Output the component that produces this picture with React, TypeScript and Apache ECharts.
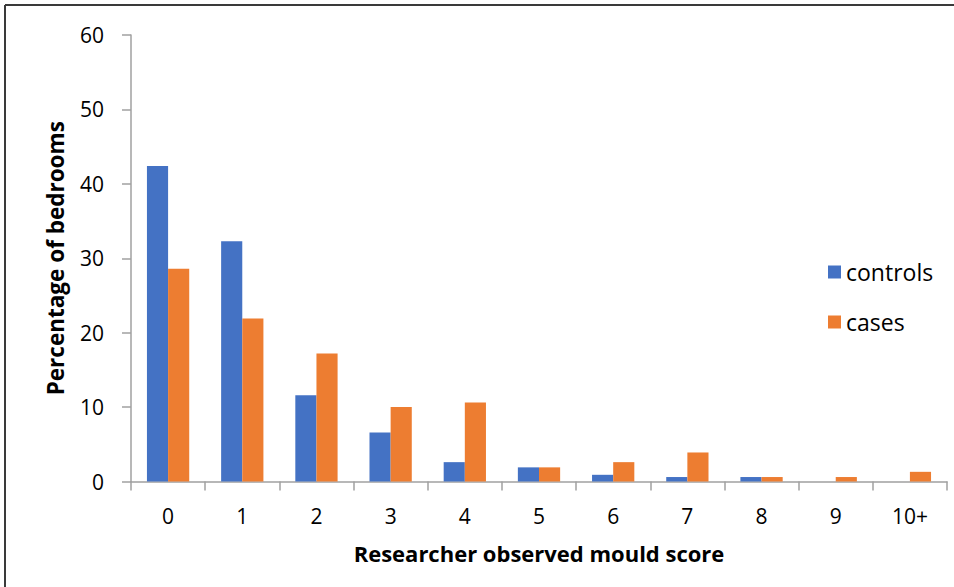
import React, { useEffect, useRef } from "react";
import * as echarts from "echarts";

// Mould score categories and percentage of bedrooms in each group
const scoreCategories = ["0", "1", "2", "3", "4", "5", "6", "7", "8", "9", "10+"];
const controlsValues = [42.4, 32.3, 11.6, 6.6, 2.6, 1.9, 0.9, 0.6, 0.6, 0, 0];
const casesValues = [28.6, 21.9, 17.2, 10.0, 10.6, 1.9, 2.6, 3.9, 0.6, 0.6, 1.3];
const yTicks = [0, 10, 20, 30, 40, 50, 60];

const FONT = "'Open Sans', 'Noto Sans', sans-serif";
const AXIS_GREY = "#a0a0a0";

export default function App() {
  const ref = useRef<HTMLDivElement>(null);

  useEffect(() => {
    if (!ref.current) return;
    const chart = echarts.init(ref.current, null, { renderer: "svg" });
    chart.setOption({
      animation: false,
      backgroundColor: "#ffffff",
      textStyle: { fontFamily: FONT },
      grid: { left: 131, right: 7, top: 35, bottom: 105.5, containLabel: false },
      legend: {
        orient: "vertical",
        left: 823,
        top: 255,
        icon: "rect",
        itemWidth: 13,
        itemHeight: 13,
        itemGap: 26,
        textStyle: { fontFamily: FONT, fontSize: 23, color: "#000", lineHeight: 24 },
        data: ["controls", "cases"],
      },
      graphic: [
        { type: "line", shape: { x1: 5, y1: 5, x2: 954, y2: 5 }, style: { stroke: "#3a3a3a", lineWidth: 2 } },
        { type: "line", shape: { x1: 5, y1: 5, x2: 5, y2: 587 }, style: { stroke: "#3a3a3a", lineWidth: 2 } },
      ],
      xAxis: {
        type: "category",
        data: scoreCategories,
        name: "Researcher observed mould score",
        nameLocation: "middle",
        nameGap: 60,
        nameTextStyle: { fontFamily: FONT, fontSize: 22, fontWeight: "bold", color: "#000" },
        axisLine: { show: true, lineStyle: { color: AXIS_GREY, width: 1.5 } },
        axisTick: { show: true, length: 9, alignWithLabel: false, lineStyle: { color: AXIS_GREY, width: 1.5 } },
        axisLabel: { fontFamily: FONT, fontSize: 21, color: "#000", margin: 24 },
        splitLine: { show: false },
      },
      yAxis: {
        type: "value",
        min: yTicks[0],
        max: yTicks[yTicks.length - 1],
        interval: 10,
        name: "Percentage of bedrooms",
        nameLocation: "middle",
        nameRotate: 90,
        nameGap: 64,
        nameTextStyle: { fontFamily: FONT, fontSize: 22.5, fontWeight: "bold", color: "#000" },
        axisLine: { show: true, lineStyle: { color: AXIS_GREY, width: 1.5 } },
        axisTick: { show: true, length: 9, lineStyle: { color: AXIS_GREY, width: 1.5 } },
        axisLabel: { fontFamily: FONT, fontSize: 21, color: "#000", margin: 27 },
        splitLine: { show: false },
      },
      series: [
        {
          name: "controls",
          type: "bar",
          data: controlsValues,
          itemStyle: { color: "#4472C4" },
          barGap: "0%",
          barCategoryGap: "43%",
        },
        {
          name: "cases",
          type: "bar",
          data: casesValues,
          itemStyle: { color: "#ED7D31" },
          barGap: "0%",
          barCategoryGap: "43%",
        },
      ],
    });
    return () => chart.dispose();
  }, []);

  return (
    <div
      ref={ref}
      style={{ position: "fixed", left: 0, top: 0, width: 954, height: 587, background: "#fff" }}
    />
  );
}
